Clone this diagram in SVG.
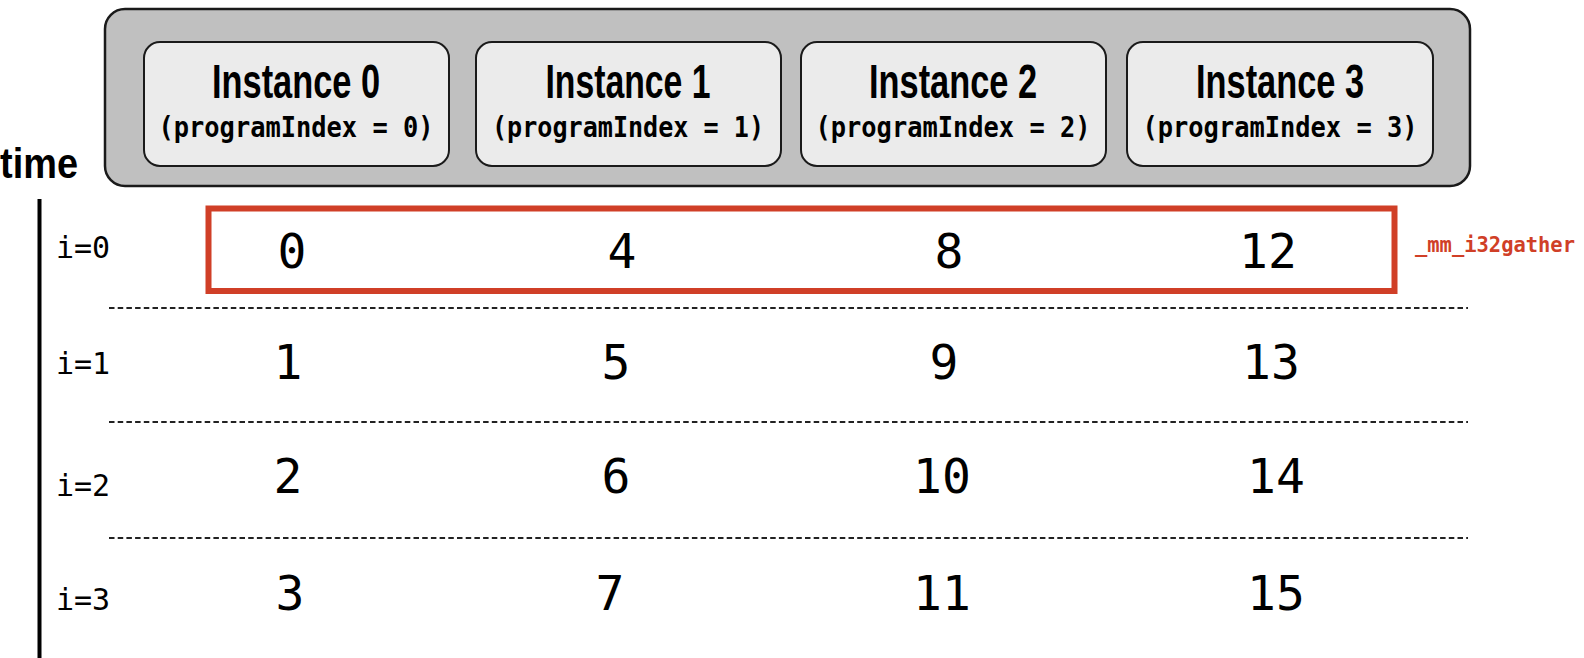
<svg xmlns="http://www.w3.org/2000/svg" width="1584" height="658" viewBox="0 0 1584 658">
<style>
.outer{fill:#c0c0c0;stroke:#1a1a1a;stroke-width:2.5}
.inst{fill:#ebebeb;stroke:#1a1a1a;stroke-width:2}
.title{font-family:"Liberation Sans",Arial,sans-serif;font-weight:bold;font-size:48px;fill:#000;text-anchor:middle}
.sub{font-family:"DejaVu Sans Mono","Liberation Mono",monospace;font-weight:bold;font-size:28px;fill:#000;text-anchor:middle}
.num{font-family:"DejaVu Sans Mono","Liberation Mono",monospace;font-size:48px;fill:#000;text-anchor:middle}
.lbl{font-family:"DejaVu Sans Mono","Liberation Mono",monospace;font-size:30px;fill:#000}
.dash{stroke:#222;stroke-width:2;stroke-dasharray:5.5 3.2;fill:none}
</style>
<g id="simd-unit">
<rect class="outer" x="105" y="9" width="1365" height="177" rx="20"/>
</g>
<g id="instance0">
<rect class="inst" x="144" y="42" width="305" height="124" rx="16"/>
<text class="title" x="296" y="98" textLength="168" lengthAdjust="spacingAndGlyphs">Instance 0</text>
<text class="sub" x="296" y="137" textLength="275" lengthAdjust="spacingAndGlyphs">(programIndex = 0)</text>
</g>
<g id="instance1">
<rect class="inst" x="476" y="42" width="305" height="124" rx="16"/>
<text class="title" x="628" y="98" textLength="165" lengthAdjust="spacingAndGlyphs">Instance 1</text>
<text class="sub" x="628" y="137" textLength="272" lengthAdjust="spacingAndGlyphs">(programIndex = 1)</text>
</g>
<g id="instance2">
<rect class="inst" x="801" y="42" width="305" height="124" rx="16"/>
<text class="title" x="953" y="98" textLength="168" lengthAdjust="spacingAndGlyphs">Instance 2</text>
<text class="sub" x="953" y="137" textLength="275" lengthAdjust="spacingAndGlyphs">(programIndex = 2)</text>
</g>
<g id="instance3">
<rect class="inst" x="1127" y="42" width="306" height="124" rx="16"/>
<text class="title" x="1280" y="98" textLength="168" lengthAdjust="spacingAndGlyphs">Instance 3</text>
<text class="sub" x="1280" y="137" textLength="275" lengthAdjust="spacingAndGlyphs">(programIndex = 3)</text>
</g>
<g id="time-axis">
<text x="0" y="178" font-family="Liberation Sans,Arial,sans-serif" font-weight="bold" font-size="43" textLength="78" lengthAdjust="spacingAndGlyphs">time</text>
<line x1="39.5" y1="199" x2="39.5" y2="658" stroke="#000" stroke-width="4"/>
</g>
<g id="row-labels">
<text class="lbl" x="56" y="258">i=0</text>
<text class="lbl" x="56" y="374">i=1</text>
<text class="lbl" x="56" y="496">i=2</text>
<text class="lbl" x="56" y="610">i=3</text>
</g>
<g id="connectors">
<line class="dash" x1="109" y1="308" x2="1468" y2="308"/>
<line class="dash" x1="109" y1="422" x2="1468" y2="422"/>
<line class="dash" x1="109" y1="538" x2="1468" y2="538"/>
</g>
<g id="gather">
<rect x="208.5" y="208.5" width="1186" height="82.5" fill="none" stroke="#d03f27" stroke-width="6"/>
<text x="1415" y="252" font-family="DejaVu Sans Mono,Liberation Mono,monospace" font-weight="bold" font-size="21" fill="#d03f27" textLength="160" lengthAdjust="spacingAndGlyphs">_mm_i32gather</text>
</g>
<g id="values">
<text class="num" x="292" y="268">0</text>
<text class="num" x="622" y="268">4</text>
<text class="num" x="949" y="268">8</text>
<text class="num" x="1268" y="268">12</text>
<text class="num" x="288" y="379">1</text>
<text class="num" x="616" y="379">5</text>
<text class="num" x="944" y="379">9</text>
<text class="num" x="1271" y="379">13</text>
<text class="num" x="288" y="493">2</text>
<text class="num" x="616" y="493">6</text>
<text class="num" x="942" y="493">10</text>
<text class="num" x="1276" y="493">14</text>
<text class="num" x="290" y="610">3</text>
<text class="num" x="610" y="610">7</text>
<text class="num" x="942" y="610">11</text>
<text class="num" x="1276" y="610">15</text>
</g>
</svg>
